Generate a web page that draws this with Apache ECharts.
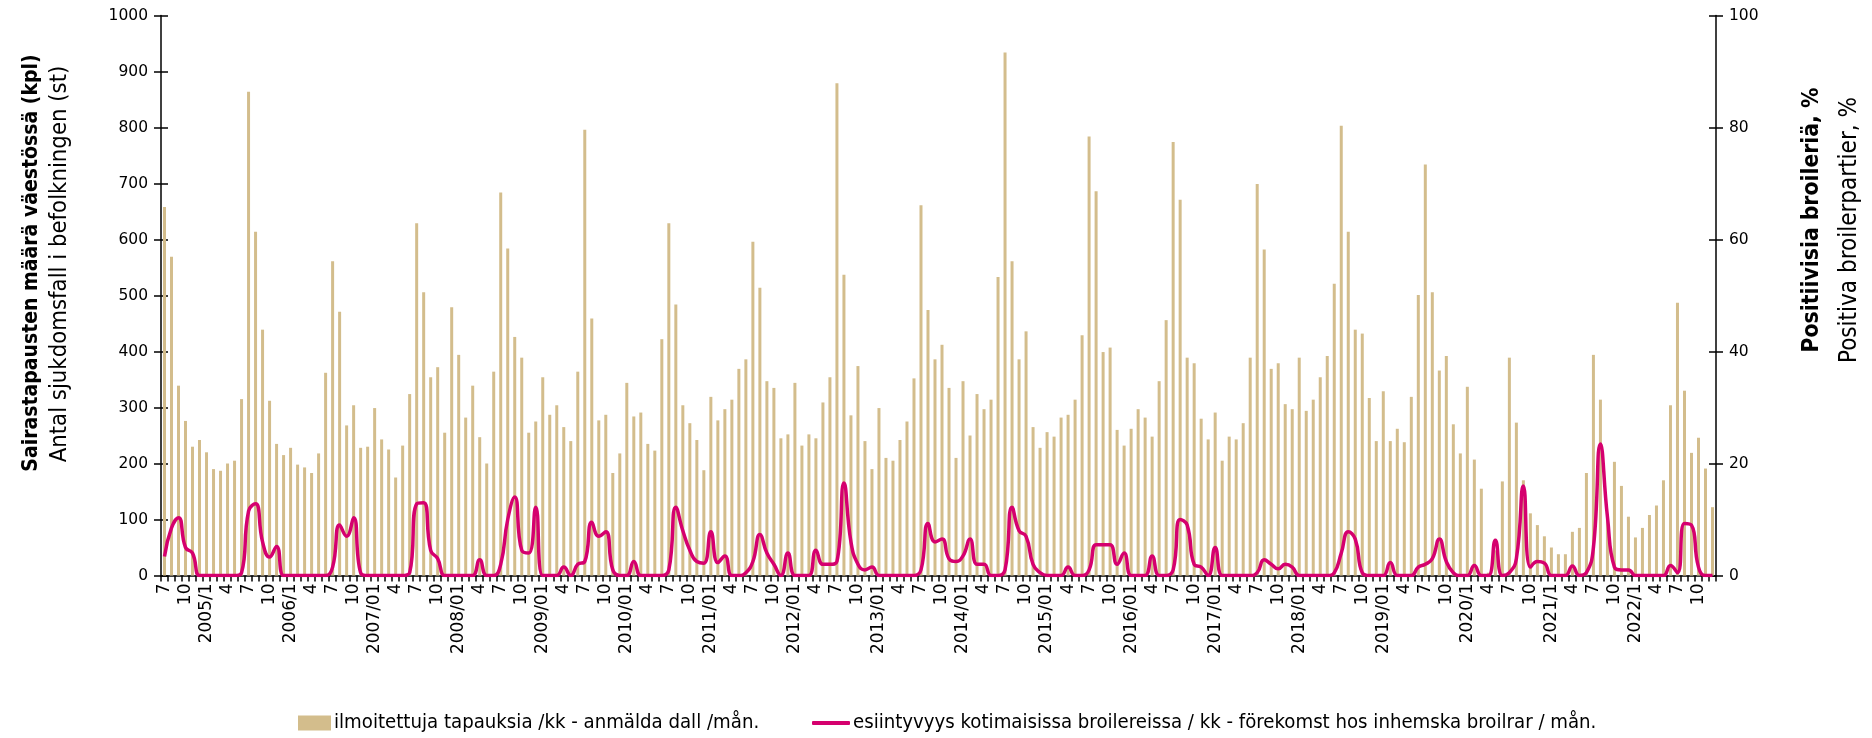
<!DOCTYPE html>
<html>
<head>
<meta charset="utf-8">
<script src="https://cdn.jsdelivr.net/npm/echarts@6/dist/echarts.min.js"></script>
<style>
html,body{margin:0;padding:0;background:#fff;}
#chart{width:1872px;height:738px;}
</style>
</head>
<body>
<div id="chart"></div>
<script>
// Months run from 2004/7 to 2022/12
const startYear = 2004;
const startMonth = 7;
const yearLabels = ['2005/1','2006/1','2007/01','2008/01','2009/01','2010/01','2011/01','2012/01','2013/01','2014/01','2015/01','2016/01','2017/01','2018/01','2019/01','2020/1','2021/1','2022/1'];

// ilmoitettuja tapauksia /kk (left axis)
const cases = [
  658, 569, 339, 276, 230, 242,
  220, 190, 187, 200, 205, 315, 864, 614, 439, 312, 235, 215,
  228, 198, 193, 183, 218, 362, 561, 471, 268, 304, 228, 230,
  299, 243, 225, 175, 232, 324, 629, 506, 354, 372, 255, 479,
  394, 282, 339, 247, 200, 364, 684, 584, 426, 389, 255, 275,
  354, 287, 304, 265, 240, 364, 796, 459, 277, 287, 183, 218,
  344, 284, 291, 235, 223, 422, 629, 484, 304, 272, 242, 188,
  319, 277, 297, 314, 369, 386, 596, 514, 347, 335, 245, 252,
  344, 232, 252, 245, 309, 354, 879, 537, 286, 374, 240, 190,
  299, 210, 205, 242, 275, 352, 661, 474, 386, 412, 335, 210,
  347, 250, 324, 297, 314, 533, 934, 561, 386, 436, 265, 228,
  256, 248, 282, 287, 314, 429, 784, 686, 399, 407, 260, 232,
  262, 297, 282, 248, 347, 456, 774, 671, 389, 379, 280, 243,
  291, 205, 248, 243, 272, 389, 699, 582, 369, 379, 306, 297,
  389, 294, 314, 354, 392, 521, 803, 614, 439, 432, 317, 240,
  329, 240, 262, 238, 319, 501, 734, 506, 366, 392, 270, 218,
  337, 207, 155, 5, 45, 168, 389, 273, 170, 111, 90, 70,
  50, 38, 38, 78, 85, 183, 394, 314, 100, 203, 160, 105,
  68, 85, 108, 125, 170, 304, 487, 330, 219, 246, 191, 122
];

// esiintyvyys kotimaisissa broilereissa / kk, % (right axis)
const positive = [
  3.4, 8.5, 10.3, 5, 4, 0,
  0, 0, 0, 0, 0, 0.5, 11.5, 12.8, 6, 3.3, 5.2, 0,
  0, 0, 0, 0, 0, 0, 1.5, 9, 7, 10.3, 0.5, 0,
  0, 0, 0, 0, 0, 0.5, 12.8, 13, 4.5, 3, 0, 0,
  0, 0, 0, 2.8, 0, 0, 2, 10, 14, 4.5, 4, 12.2,
  0, 0, 0, 1.5, 0, 2, 2.5, 9.5, 7, 7.8, 1, 0,
  0, 2.5, 0, 0, 0, 0, 1, 12.2, 8, 4.5, 2.5, 2.2,
  7.8, 2.3, 3.5, 0, 0, 0.5, 2.5, 7.3, 4, 2, 0, 4,
  0, 0, 0, 4.5, 2, 2, 2.5, 16.5, 6, 2, 1, 1.5,
  0, 0, 0, 0, 0, 0, 1, 9.3, 6, 6.5, 3, 2.5,
  3.5, 6.5, 2, 2, 0, 0, 1, 12.2, 8, 7, 2, 0.5,
  0, 0, 0, 1.5, 0, 0, 1, 5.5, 5.5, 5.5, 2, 4,
  0, 0, 0, 3.5, 0, 0, 1, 10, 9, 2, 1.5, 0,
  5, 0, 0, 0, 0, 0, 0.5, 2.8, 2, 1.2, 2, 1.5,
  0, 0, 0, 0, 0, 0.5, 4, 7.8, 6.5, 0.5, 0, 0,
  0, 2.3, 0, 0, 0, 1.5, 2, 3, 6.5, 2.5, 0.5, 0,
  0, 1.8, 0, 0, 6.3, 0, 0.5, 3, 16, 1.5, 2.5, 2.2,
  0, 0, 0, 1.7, 0, 0.5, 5, 23.5, 10.5, 1.5, 1, 1,
  0, 0, 0, 0, 0, 1.8, 0.5, 9.3, 9, 1.5, 0, 0
];

const leftTicks = {min: 0, max: 1000, interval: 100};
const rightTicks = {min: 0, max: 100, interval: 20};

const barName = 'ilmoitettuja tapauksia /kk - anmälda dall /mån.';
const lineName = 'esiintyvyys kotimaisissa broilereissa / kk - förekomst hos inhemska broilrar / mån.';

const categories = [];
const tickLabels = [];
for (let i = 0; i < cases.length; i++) {
  const k = startMonth - 1 + i;
  const y = startYear + Math.floor(k / 12);
  const m = k % 12 + 1;
  categories.push(y + '-' + m);
  tickLabels.push(m === 1 ? yearLabels[y - 2005] : (m % 3 === 1 ? String(m) : ''));
}

const narrow = '"Liberation Sans Narrow", "DejaVu Sans Condensed", sans-serif';
const axisFont = '"DejaVu Sans", sans-serif';
const barColor = '#d3bd8c';
const lineColor = '#d5006e';

const chart = echarts.init(document.getElementById('chart'), null, {renderer: 'canvas'});
const axisLineStyle = {color: '#000', width: 1.5};
const tickStyle = {color: '#000', width: 1.5};
chart.setOption({
  animation: false,
  backgroundColor: '#fff',
  grid: {left: 161, right: 156, top: 15.5, bottom: 162.5, containLabel: false},
  legend: [
    {data: [barName], left: 298, top: 713, padding: 0, itemWidth: 33, itemHeight: 15, icon: 'rect',
     textStyle: {fontFamily: narrow, fontSize: 20.2, color: '#000', padding: [0, 0, 0, -2]}},
    {data: [lineName], left: 812, top: 713, padding: 0, itemWidth: 38, itemHeight: 4, icon: 'roundRect',
     textStyle: {fontFamily: narrow, fontSize: 20.2, color: '#000', padding: [0, 0, 0, -2]}}
  ],
  xAxis: {
    type: 'category',
    data: categories,
    boundaryGap: true,
    axisLine: {lineStyle: axisLineStyle},
    axisTick: {show: true, interval: 0, length: 6, lineStyle: tickStyle},
    axisLabel: {
      interval: 2, rotate: 90, margin: 8, color: '#000', fontSize: 17, fontFamily: axisFont,
      formatter: (v, idx) => tickLabels[idx]
    },
    splitLine: {show: false}
  },
  yAxis: [
    {type: 'value', position: 'left', min: leftTicks.min, max: leftTicks.max, interval: leftTicks.interval,
     axisLine: {show: true, lineStyle: axisLineStyle},
     axisTick: {show: true, length: 7, lineStyle: tickStyle},
     axisLabel: {color: '#000', fontSize: 15.5, fontFamily: axisFont, margin: 13, formatter: v => String(v)},
     splitLine: {show: false}},
    {type: 'value', position: 'right', min: rightTicks.min, max: rightTicks.max, interval: rightTicks.interval,
     axisLine: {show: true, lineStyle: axisLineStyle},
     axisTick: {show: true, length: 7, lineStyle: tickStyle},
     axisLabel: {color: '#000', fontSize: 15.5, fontFamily: axisFont, margin: 13, formatter: v => String(v)},
     splitLine: {show: false}},
    {type: 'value', position: 'left', min: leftTicks.min, max: leftTicks.max, interval: leftTicks.interval,
     axisLine: {show: false}, axisLabel: {show: false}, splitLine: {show: false},
     axisTick: {show: true, inside: true, length: 7, lineStyle: tickStyle}},
    {type: 'value', position: 'right', min: rightTicks.min, max: rightTicks.max, interval: rightTicks.interval,
     axisLine: {show: false}, axisLabel: {show: false}, splitLine: {show: false},
     axisTick: {show: true, inside: true, length: 7, lineStyle: tickStyle}}
  ],
  series: [
    {name: barName, type: 'bar', yAxisIndex: 0, data: cases, barWidth: 3,
     itemStyle: {color: barColor}},
    {name: lineName, type: 'line', yAxisIndex: 1, data: positive, smooth: 0.5,
     symbol: 'none', lineStyle: {color: lineColor, width: 3.5}, itemStyle: {color: lineColor}, z: 5}
  ],
  graphic: [
    {type: 'text', x: 32, y: 263, rotation: Math.PI / 2,
     style: {text: 'Sairastapausten määrä väestössä (kpl)', font: 'bold 21px ' + narrow, fill: '#000', align: 'center', verticalAlign: 'middle'}},
    {type: 'text', x: 60, y: 264, rotation: Math.PI / 2,
     style: {text: 'Antal sjukdomsfall i befolkningen (st)', font: '23.7px ' + narrow, fill: '#000', align: 'center', verticalAlign: 'middle'}},
    {type: 'text', x: 1812, y: 220, rotation: Math.PI / 2,
     style: {text: 'Positiivisia broileriä, %', font: 'bold 22.7px ' + narrow, fill: '#000', align: 'center', verticalAlign: 'middle'}},
    {type: 'text', x: 1850, y: 230, rotation: Math.PI / 2,
     style: {text: 'Positiva broilerpartier, %', font: '24px ' + narrow, fill: '#000', align: 'center', verticalAlign: 'middle'}}
  ]
});
</script>
</body>
</html>
